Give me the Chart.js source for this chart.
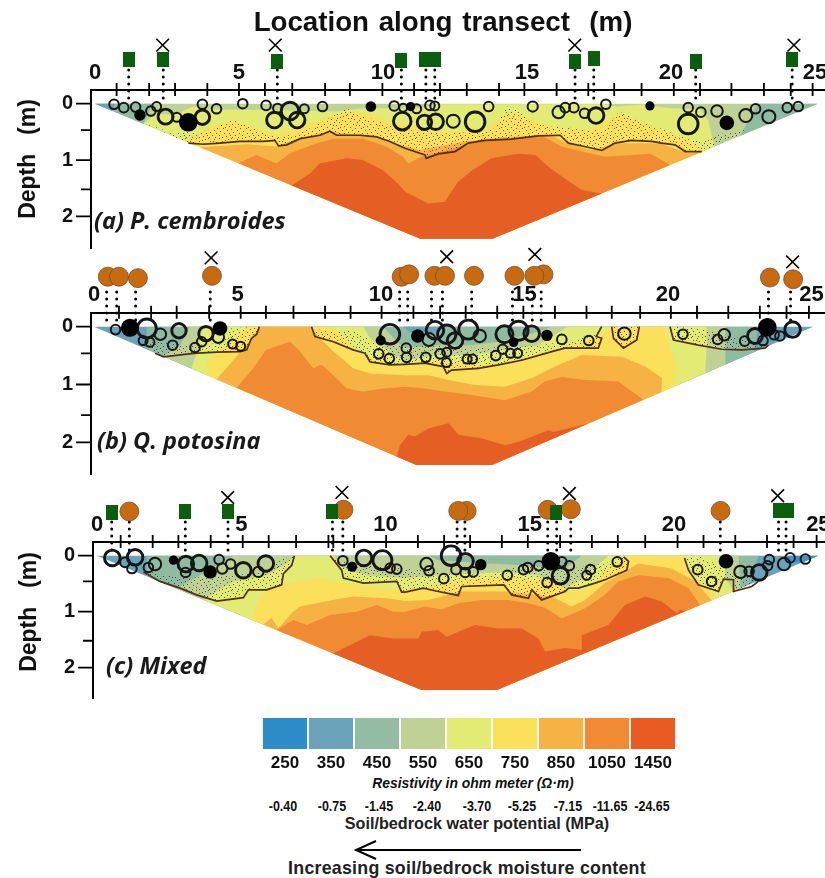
<!DOCTYPE html>
<html>
<head>
<meta charset="utf-8">
<title>Location along transect</title>
<script src="https://cdn.jsdelivr.net/npm/chart.js@4/dist/chart.umd.min.js"></script>
<style>
  html, body { margin: 0; padding: 0; background: #fff; }
  body { position: relative; width: 825px; height: 878px; overflow: hidden; font-family: "Liberation Sans", Arial, sans-serif; color: #111; }
  canvas { position: absolute; left: 0; }
  #chartA { top: 0; }
  #chartB { top: 245px; }
  #chartC { top: 475px; }
  #chartLegend { left: 262px; top: 718px; }
  .txt { position: absolute; transform: translate(-50%, -50%); white-space: nowrap; font-weight: bold; }
  .title { left: 443px; top: 22px; font-size: 27.7px; word-spacing: 2px; }
  .depth { font-size: 23px; transform: translate(-50%, -50%) rotate(-90deg); word-spacing: 3px; }
  .panel { font-family: "Open Sans", sans-serif; font-style: italic; font-size: 23.5px; transform: none; color: #1a1a1a; }
  .potential { font-size: 14.5px; top: 806px; transform: translate(-50%, -50%) scaleX(.86); }
  .arrow { position: absolute; left: 350px; top: 835px; }
</style>
</head>
<body>
<canvas id="chartA" width="825" height="249"></canvas>
<canvas id="chartB" width="825" height="230"></canvas>
<canvas id="chartC" width="825" height="224"></canvas>
<canvas id="chartLegend" width="414" height="57"></canvas>

<div class="txt title">Location along transect&nbsp; (m)</div>
<div class="txt depth" style="left:27px;top:159px">Depth&nbsp; (m)</div>
<div class="txt depth" style="left:28px;top:612px">Depth&nbsp; (m)</div>
<div class="txt panel" style="left:94px;top:204px">(a) P. cembroides</div>
<div class="txt panel" style="left:97px;top:424px">(b) Q. potosina</div>
<div class="txt panel" style="left:106px;top:649px">(c) Mixed</div>
<div class="txt" style="left:473px;top:783px;font-size:13.9px;font-style:italic">Resistivity in ohm meter (Ω·m)</div>
<div class="txt" style="left:477px;top:823px;font-size:16.2px;color:#222">Soil/bedrock water potential (MPa)</div>
<div class="txt" style="left:467px;top:868px;font-size:17.8px;letter-spacing:.25px;color:#222">Increasing soil/bedrock moisture content</div>
<svg class="arrow" width="235" height="30">
  <path d="M231 15 H7 M26 6 L6 15 L26 24" fill="none" stroke="#000" stroke-width="2"/>
</svg>

<script>
    const xLabels = [0, 5, 10, 15, 20, 25];
    const depthLabels = [0, 1, 2];

    const resistivity = ['250', '350', '450', '550', '650', '750', '850', '1050', '1450'];
    const waterPotential = ['-0.40', '-0.75', '-1.45', '-2.40', '-3.70', '-5.25', '-7.15', '-11.65', '-24.65'];
    const legendFill = [1, 1, 1, 1, 1, 1, 1, 1, 1];

    // ---------- panel a
    const aTicks = [0.75, 1.88, 2.78, 3.9, 5, 5.9, 6.85, 7.99, 8.85, 9.98, 11.08, 11.98, 12.91, 14.03, 14.91, 16.03, 17.13, 18.03, 18.98, 20.1, 21.01, 22.1, 23.23, 24.16, 24.92];
    const aMinorDepth = [0.47, 1.52];
    const aOutline = [[0, 0], [11.3, 2.4], [13.8, 2.4], [25.1, 0]];
    const aPatch450 = [[[0, 0], [2, 0], [1.68, 0.36]], [[25.1, 0], [23, 0], [22.8, 0.2], [22.4, 0.57]]];
    const aPatch350 = [[[0, 0], [0.7, 0], [0.6, 0.13]]];
    const aBand650 = [[1.68, 0.36], [2.14, 0.17], [2.72, 0.2], [3.41, 0.05], [4.1, 0.1], [5.96, 0.11], [8.28, 0.14], [9.4, 0.08], [11.28, 0.08], [12, 0.01], [14, 0.01], [17.7, 0.01], [18.1, 0.05], [19, 0.02], [20, 0.08], [21, 0.1], [21.3, 0.3], [21.5, 0.75]];
    const aBand750 = [[3.07, 0.65], [3.65, 0.5], [4.22, 0.38], [4.8, 0.29], [5.73, 0.47], [6.3, 0.53], [7.1, 0.41], [7.8, 0.29], [8.74, 0.14], [9.4, 0.17], [10.36, 0.35], [11.28, 0.41], [11.46, 0.5], [12.4, 0.5], [13.66, 0.44], [14.1, 0.23], [14.6, 0.17], [16, 0.44], [17.2, 0.47], [18.2, 0.17], [19.1, 0.35], [20.3, 0.59], [21.2, 0.76]];
    const aBand850 = [[3.65, 0.78], [4.1, 0.76], [5.27, 0.72], [6.3, 0.76], [6.9, 0.65], [7.8, 0.53], [8.28, 0.5], [9.4, 0.56], [10.6, 0.73], [11.28, 0.82], [11.9, 0.76], [12.85, 0.67], [14.24, 0.59], [15.85, 0.56], [16.4, 0.7], [17.24, 0.82], [18.2, 0.7], [19.6, 0.7], [20.6, 0.88], [21.1, 0.85]];
    const aBand1050 = [[4.98, 1.03], [5.6, 0.91], [6.3, 1.06], [6.77, 0.88], [7.7, 0.7], [8.28, 0.62], [9.3, 0.62], [10.1, 0.76], [10.7, 0.94], [10.88, 1.06], [11.34, 0.94], [12.27, 0.82], [13.3, 0.67], [14.35, 0.62], [15.6, 0.59], [16.2, 0.76], [16.9, 0.85], [17.7, 0.94], [19.3, 0.89], [19.97, 1.09]];
    const aBand1450 = [[6.83, 1.44], [7.47, 1.24], [7.8, 1.06], [8.74, 0.97], [9.3, 1], [10, 1.18], [10.5, 1.41], [10.76, 1.56], [11.57, 1.77], [12.15, 1.74], [12.6, 1.39], [13.1, 1.18], [13.77, 0.97], [14.7, 0.89], [15.3, 0.91], [15.74, 1.12], [16.4, 1.36], [16.9, 1.53], [17.6, 1.59]];
    const aContour = [[[3.24, 0.7], [3.76, 0.72], [4.34, 0.7], [5.03, 0.67], [5.85, 0.67], [6.25, 0.65], [6.37, 0.75], [6.66, 0.73], [7.12, 0.62], [7.81, 0.56], [8.16, 0.49], [8.39, 0.56], [9.2, 0.56], [9.78, 0.59], [10.24, 0.67], [10.76, 0.79], [11.28, 0.88], [11.46, 0.91], [11.5, 0.97], [11.92, 0.89], [12.5, 0.85], [12.96, 0.7], [13.54, 0.65], [14.46, 0.63], [15.4, 0.57], [16.15, 0.56], [16.44, 0.7], [17, 0.76], [17.6, 0.83], [18.05, 0.7], [18.63, 0.65], [19.33, 0.67], [19.68, 0.7], [20.14, 0.73], [20.5, 0.85], [21.07, 0.85]]];
    const aDotsTop = [[[22.9, 0.44], [21.8, 0.53], [21.2, 0.65], [20.7, 0.65], [19.8, 0.47], [18.9, 0.29], [18.2, 0.14], [17.7, 0.47], [17, 0.47], [16.3, 0.41], [15.86, 0.41], [15.2, 0.35], [14.6, 0.08], [14.3, 0.05], [13.9, 0.44], [13.1, 0.5], [12.15, 0.53], [11.34, 0.47], [10.6, 0.47], [9.78, 0.29], [9.08, 0.2], [8.74, 0.08], [7.8, 0.35], [7.1, 0.53], [6.3, 0.59], [5.5, 0.44], [4.8, 0.29], [4.1, 0.44], [3.65, 0.5], [2.6, 0.5], [1.68, 0.34]]];
    const aOpenRoots = [[0.66, 0.01, 4.3], [1, 0.07, 4.3], [1.41, 0.06, 4.3], [1.94, 0.13, 4.3], [2.14, 0.05, 4], [2.45, 0.23, 7], [2.84, 0.24, 4], [3.73, 0.01, 4.3], [3.73, 0.24, 6.7], [4.22, 0.09, 4.3], [5.13, 0, 4.3], [5.94, 0.03, 4.3], [6.34, 0.08, 4], [6.23, 0.29, 7.3], [6.77, 0.13, 8.3], [7.02, 0.29, 7.3], [7.27, 0.09, 4], [7.9, 0.05, 4.3], [10.39, 0.04, 4.3], [10.7, 0.07, 3.5], [10.67, 0.31, 8.3], [11.17, 0.09, 4], [11.44, 0.33, 6.7], [11.63, 0.03, 4.3], [11.8, 0.04, 4], [11.83, 0.32, 7.3], [12.44, 0.31, 6], [13.2, 0.32, 9.3], [13.67, 0.05, 4.3], [15.2, 0.05, 4.6], [16.1, 0.15, 5.6], [16.33, 0.07, 4.3], [16.63, 0.07, 4.3], [17, 0.17, 4.3], [17.4, 0.21, 7.3], [17.74, 0.01, 4.3], [20.6, 0.07, 4.3], [20.6, 0.36, 9.3], [21.04, 0.15, 4.3], [21.6, 0.13, 5.3], [22.6, 0.21, 6], [22.94, 0.09, 4.3], [23.4, 0.23, 6], [24.04, 0.07, 4.3], [24.42, 0.05, 4.3]];
    const aSolidRoots = [[1.56, 0.2, 5.7], [3.24, 0.33, 9.3], [9.58, 0.05, 5.3], [10.96, 0.05, 4.6], [19.27, 0.04, 4.6], [21.94, 0.34, 7.3]];
    const aPines = [[1.17, -0.78], [2.37, -0.78], [6.33, -0.75], [10.64, -0.77], [11.46, -0.78], [11.8, -0.78], [16.68, -0.75], [17.34, -0.8], [20.86, -0.75], [24.22, -0.78]];
    const aOaks = [];
    const aDead = [[2.35, -1.04], [6.26, -1.04], [16.66, -1.04], [24.27, -1.04]];
    const aDrops = [1.17, 2.37, 6.33, 10.64, 11.49, 11.8, 16.67, 17.32, 20.86, 24.21];

    // ---------- panel b
    const bTicks = [0.87, 1.99, 2.88, 4.01, 5.11, 5.99, 6.95, 8.05, 8.94, 10.02, 11.13, 12.06, 12.95, 14.05, 14.96, 16.06, 17.16, 18.04, 19.03, 20.1, 21.01, 22.1, 23.2, 24.13, 24.91];
    const bMinorDepth = [0.46, 1.53];
    const bOutline = [[0, 0], [11.24, 2.39], [13.86, 2.39], [25.06, 0]];
    const bBlob350 = [[[10.8, 0], [12.2, 0], [12, 0.1], [11, 0.1]]];
    const bBand450 = [[1.84, 0.39], [1.84, 0], [23.15, 0], [23, 0.44]];
    const bBand550 = [[2.42, 0.5], [3, 0.32], [3.34, 0], [10.08, 0], [10.55, 0.26], [10.84, 0.37], [12, 0.32], [13.15, 0.32], [14.1, 0.26], [15.13, 0.14], [15.94, 0], [22, 0], [22, 0.65]];
    const bBand650 = [[3.4, 0.72], [3.58, 0.43], [3.81, 0], [9.38, 0], [9.62, 0.2], [10.43, 0.49], [10.84, 0.58], [12, 0.49], [13.15, 0.49], [14.32, 0.4], [15.48, 0.32], [16.4, 0.03], [16.53, 0], [21.34, 0], [21.35, 0.32], [21.3, 0.8]];
    const bBand750 = [[3.93, 0.84], [3.93, 0.6], [4.62, 0.32], [5.32, 0], [8.34, 0], [8.92, 0.32], [9.5, 0.55], [10.84, 0.66], [11.42, 0.6], [12.23, 0.6], [13.4, 0.66], [14.9, 0.6], [15.71, 0.43], [16.4, 0.37], [17.69, 0.14], [18.04, 0], [19.9, 0], [20, 0.32], [20.24, 0.6], [20.24, 1.03]];
    const bBand850 = [[4.27, 0.91], [4.85, 0.58], [5.55, 0.17], [5.78, 0], [7.53, 0], [7.87, 0.2], [8.34, 0.43], [9.03, 0.72], [9.62, 0.81], [10.84, 0.84], [11.65, 0.84], [12.35, 0.92], [13.27, 1.01], [14.32, 1.04], [15.25, 0.89], [16.06, 0.69], [17, 0.49], [18.4, 0.52], [19.2, 0.69], [19.8, 0.89], [19.77, 1.13]];
    const bBand1050 = [[4.97, 1.06], [5.55, 0.72], [6, 0.4], [6.83, 0.26], [7.18, 0.43], [7.64, 0.72], [7.93, 0.66], [8.34, 0.84], [8.8, 1.07], [9.38, 1.12], [10.08, 1.07], [10.84, 1.04], [11.53, 1.07], [12.23, 1.12], [13.15, 1.18], [14.32, 1.27], [15.25, 1.12], [15.71, 0.95], [16.3, 0.87], [17.1, 0.92], [18.27, 0.95], [18.6, 1.07], [19.14, 1.26]];
    const bBand1450 = [[10.55, 2.24], [10.66, 2.05], [10.95, 1.87], [11.18, 1.9], [11.66, 1.76], [12.35, 1.67], [12.7, 1.87], [13.5, 1.93], [14.32, 2.05], [14.8, 1.99], [15.83, 1.79], [16, 1.82], [17.2, 1.68]];
    const bContour = [
      [[2.13, 0.46], [2.42, 0.52], [3.46, 0.46], [4.27, 0.44], [5.09, 0.43], [5.32, 0.4], [5.49, 0.2], [5.67, 0.13], [5.76, 0]],
      [[7.58, 0], [7.7, 0.17], [8.34, 0.26], [9.03, 0.4], [9.44, 0.46], [9.62, 0.61], [10.31, 0.66], [10.84, 0.65], [11.53, 0.63], [12.17, 0.69], [12.29, 0.81], [12.46, 0.75], [13.39, 0.72], [14.09, 0.66], [14.9, 0.58], [15.95, 0.43], [16.4, 0.37], [16.87, 0.37], [17.57, 0.37], [17.69, 0.2], [17.5, 0.17], [17.69, 0]],
      [[18.04, 0], [18.1, 0.2], [18.45, 0.37], [18.91, 0.23], [19, 0]],
      [[20.07, 0], [20.19, 0.23], [21.06, 0.32], [21.87, 0.39], [22.57, 0.4], [23.38, 0.37], [23.5, 0.32]]
    ];
    const bDotsTop = [
      [[4.74, 0.03], [4.62, 0.17], [4.16, 0.29], [3.23, 0.32], [2.3, 0.26], [1.72, 0.2]],
      [[17.34, 0.14], [16.4, 0.26], [15.48, 0.32], [13.39, 0.37], [11.53, 0.32], [10.84, 0.32], [9.73, 0.26], [8.92, 0.03], [8.34, 0.09], [7.64, 0.03]],
      [],
      [[23.03, 0.26], [22, 0.14], [21.28, 0.03]]
    ];
    const bOpenRoots = [[0.75, 0.05, 4.3], [1.84, 0.03, 9], [2.31, 0.13, 5.3], [1.71, 0.24, 4], [1.95, 0.27, 4], [2.96, 0.07, 6.7], [2.74, 0.32, 4.3], [3.52, 0.36, 4.3], [3.75, 0.26, 4.3], [3.9, 0.12, 6.7], [4.33, 0.18, 5.3], [4.83, 0.3, 4], [5.11, 0.34, 4], [10.31, 0.13, 9.3], [9.92, 0.47, 4.3], [10.29, 0.55, 4.3], [10.88, 0.37, 4.3], [10.89, 0.53, 4.3], [11.67, 0.22, 6], [11.88, 0.06, 8.3], [12.29, 0.13, 8.7], [12.58, 0.24, 7.3], [13.04, 0.05, 9], [13.44, 0.16, 5.7], [11.56, 0.53, 4.3], [12.06, 0.47, 4.3], [12.29, 0.44, 4], [12.28, 0.62, 4], [13, 0.56, 4], [13.19, 0.56, 4], [14, 0.5, 4.3], [14.24, 0.39, 4.3], [14.51, 0.46, 4], [14.76, 0.46, 4], [14.3, 0.13, 8], [14.79, 0.07, 9], [15.25, 0.12, 7.3], [16.3, 0.22, 4.3], [17.24, 0.24, 4.3], [18.48, 0.12, 5.7], [20.52, 0.13, 4.3], [21.73, 0.22, 4.3], [21.96, 0.14, 5.3], [22.67, 0.25, 4.3], [23.03, 0.16, 7], [23.31, 0.24, 4.3], [23.7, 0.14, 4.3], [23.9, 0.16, 4.3], [24.34, 0.05, 7.3]];
    const bSolidRoots = [[1.25, 0.02, 9], [4.39, 0.03, 7.3], [9.99, 0.24, 5], [11.28, 0.16, 6.7], [14.62, 0.27, 4.7], [15.78, 0.15, 5.7], [23.46, 0.01, 9.3]];
    const bPines = [];
    const bOaks = [[0.48, -0.865], [0.87, -0.865], [1.53, -0.84], [4.11, -0.88], [10.72, -0.865], [10.98, -0.905], [11.86, -0.88], [12.23, -0.88], [13.24, -0.88], [14.65, -0.88], [15.66, -0.905], [15.34, -0.88], [23.55, -0.85], [24.36, -0.82]];
    const bDead = [[4.08, -1.19], [12.29, -1.21], [15.36, -1.25], [24.34, -1.12]];
    const bDrops = [0.44, 0.79, 1.45, 4.05, 10.65, 10.93, 11.76, 12.14, 13.16, 14.58, 15.27, 15.58, 23.5, 24.27];

    // ---------- panel c
    const cTicks = [0.82, 1.93, 2.82, 3.94, 5.05, 5.95, 6.9, 8.02, 8.19, 8.91, 10.02, 11.12, 12.03, 12.93, 14.03, 14.93, 16.05, 17.15, 18.05, 19, 20.12, 21.02, 22.12, 23.22, 24.14, 24.94];
    const cMinorDepth = [0.46, 1.52];
    const cOutline = [[0, 0], [11.25, 2.4], [13.85, 2.4], [25, 0]];
    const cTip250 = [[[23.9, 0], [25, 0], [24.4, 0.13], [24, 0.1]]];
    const cBand450 = [[1.72, 0.36], [1.72, 0], [22.92, 0], [22.69, 0.4], [22.6, 0.52]];
    const cBand550 = [[2.76, 0.58], [3.57, 0.35], [4.73, 0], [22.23, 0], [22.3, 0.58]];
    const cBand650 = [[3.69, 0.78], [4.2, 0.62], [4.73, 0.46], [5.88, 0.35], [6.57, 0.14], [6.86, 0], [8.19, 0], [8.54, 0.23], [9.35, 0.35], [10.68, 0.4], [11.83, 0.35], [14.1, 0.29], [15.3, 0.35], [16.22, 0.58], [16.68, 0.46], [17.49, 0.11], [17.72, 0], [21.77, 0], [21.77, 0.4], [22.07, 0.63]];
    const cBand750 = [[5.36, 1.14], [5.53, 0.88], [5.77, 0.67], [6.57, 0.49], [7.73, 0.4], [8.54, 0.49], [9.93, 0.58], [10.68, 0.61], [11.83, 0.52], [13, 0.4], [14.1, 0.38], [15.73, 0.46], [16.34, 0.64], [17, 0.61], [17.72, 0.23], [18.42, 0.02], [18.53, 0], [20.3, 0], [20.58, 0.29], [21.08, 0.58], [21.5, 0.75]];
    const cBand850 = [[5.77, 1.23], [6.05, 1.11], [6.28, 1.3], [6.8, 1], [7.04, 0.91], [8.19, 0.79], [8.88, 0.73], [10.04, 0.76], [10.68, 0.81], [11.48, 0.79], [12.64, 0.64], [14.14, 0.64], [15.76, 0.73], [16.45, 0.91], [16.92, 0.79], [17.61, 0.49], [18.07, 0.35], [18.76, 0.14], [19.92, 0.23], [20.73, 0.46], [21.3, 0.79]];
    const cBand1050 = [[6.23, 1.33], [6.8, 1.15], [7.27, 1.24], [8.08, 1.06], [9, 1], [9.69, 0.88], [10.27, 1], [10.68, 1], [11.37, 0.91], [11.95, 0.96], [12.52, 0.85], [13.34, 0.79], [14.26, 0.79], [14.95, 0.85], [15.53, 0.93], [16.11, 1.12], [16.92, 0.94], [17.61, 0.7], [18.07, 0.46], [18.76, 0.35], [19.8, 0.4], [20.5, 0.58], [20.9, 0.87]];
    const cBand1450 = [[8.19, 1.75], [8.88, 1.57], [9.46, 1.42], [10.27, 1.48], [11.14, 1.48], [11.25, 1.36], [11.83, 1.33], [12.12, 1.45], [12.53, 1.36], [13.1, 1.24], [13.9, 1.3], [14.72, 1.3], [15.3, 1.48], [15.53, 1.71], [16.23, 1.65], [16.8, 1.68], [16.8, 1.42], [17.72, 1.24], [18.3, 0.88], [19, 0.73], [19.57, 0.82], [20.1, 1.03], [20.2, 0.97], [20.4, 0.99]];
    const cBlob450 = [[[11.5, 0], [16.8, 0], [16.22, 0.23], [14.72, 0.17], [13, 0.12], [11.83, 0.08]]];
    const cContour = [
      [[1.61, 0.29], [2.18, 0.46], [2.88, 0.58], [3.45, 0.7], [4.15, 0.81], [5.07, 0.75], [5.25, 0.61], [5.88, 0.61], [6.4, 0.52], [6.46, 0.32], [6.75, 0.17], [6.84, 0]],
      [[8.08, 0], [8.48, 0.26], [8.54, 0.4], [9.23, 0.49], [10.39, 0.46], [10.56, 0.65], [10.68, 0.65], [11.31, 0.58], [11.83, 0.64], [12.52, 0.71], [12.64, 0.55], [14.1, 0.52], [14.37, 0.7], [14.95, 0.76], [15.07, 0.61], [15.41, 0.79], [16.22, 0.64], [16.34, 0.58], [16.68, 0.58], [17.26, 0.49], [17.61, 0.43], [18.36, 0.26], [18.42, 0.1], [18.25, 0.02]],
      [[20.36, 0.04], [20.5, 0.26], [20.84, 0.52], [21.54, 0.64], [21.71, 0.42], [22.06, 0.43], [22.06, 0.64], [22.69, 0.55], [22.92, 0.46]]
    ];
    const cDotsTop = [
      [[6.46, 0.05], [5.77, 0.29], [4.73, 0.35], [3.11, 0.4], [2.18, 0.32], [1.61, 0.23]],
      [[17.9, 0.08], [17.61, 0.14], [16.45, 0.23], [14.72, 0.17], [13.56, 0.35], [11.83, 0.29], [10.68, 0.23], [9.12, 0.17], [8.19, 0.05]],
      [[22.92, 0.4], [21.88, 0.29], [21.3, 0.11], [20.96, 0.02]]
    ];
    const cOpenRoots = [[0.53, 0.04, 7.3], [0.97, 0.12, 4.3], [1.32, 0.03, 7.3], [1.21, 0.23, 4.3], [1.78, 0.21, 4.3], [2.01, 0.15, 5.7], [3.08, 0.15, 7.3], [3.07, 0.3, 4.3], [3.54, 0.13, 7.3], [4.23, 0.07, 4.3], [4.34, 0.23, 4.7], [4.63, 0.15, 4.3], [5.07, 0.26, 7.3], [5.59, 0.29, 4.7], [5.85, 0.14, 7.3], [8.52, 0.09, 4.3], [9.25, 0.04, 7.3], [9.89, 0.08, 9], [10.16, 0.22, 4.3], [10.39, 0.24, 4.3], [11.42, 0.15, 5.7], [11.51, 0.27, 4.3], [12.02, 0.41, 4.3], [12.27, 0, 9.3], [12.77, 0.1, 7.3], [12.44, 0.25, 4.3], [12.76, 0.3, 4.3], [13.04, 0.29, 4.3], [14.22, 0.35, 4.3], [14.78, 0.25, 4.3], [14.93, 0.21, 4.3], [15.31, 0.18, 4.3], [15.6, 0.48, 4.3], [16.06, 0.36, 7.7], [16.11, 0.11, 4.3], [16.37, 0.18, 4.3], [16.97, 0.35, 4], [17.1, 0.25, 4.3], [18.03, 0.11, 4.3], [20.82, 0.25, 4.3], [21.3, 0.46, 4.3], [22.3, 0.29, 5.7], [22.6, 0.28, 4.3], [22.95, 0.3, 7.3], [23.24, 0.18, 4.3], [23.3, 0.07, 4.3], [23.81, 0.15, 5.7], [24.02, 0.04, 4.3], [24.55, 0.06, 4.3]];
    const cSolidRoots = [[2.65, 0.08, 4.7], [3.92, 0.29, 6.7], [8.84, 0.2, 5], [13.3, 0.16, 5.7], [15.73, 0.1, 9.3], [21.8, 0.1, 7.3]];
    const cPines = [[0.51, -0.77], [3.06, -0.79], [4.54, -0.79], [8.16, -0.79], [15.92, -0.77], [23.62, -0.8], [23.96, -0.8]];
    const cOaks = [[1.12, -0.79], [8.54, -0.82], [12.81, -0.8], [12.52, -0.8], [15.62, -0.82], [16.42, -0.83], [21.61, -0.8]];
    const cDead = [[4.53, -1.04], [8.49, -1.13], [16.37, -1.11], [23.59, -1.07]];
    const cDrops = [0.51, 1.12, 3.06, 4.54, 8.16, 8.52, 12.48, 12.75, 15.62, 15.93, 16.42, 21.6, 23.62, 23.88];

    const dropTop = -0.6;
    const dropBottom = -0.05;

    const colors = { c250: '#3c93c9', c350: '#6ba4ba', c450: '#90bba3', c550: '#bfd195', c650: '#e2eb74', c750: '#fbe05b', c850: '#f6b243', c1050: '#f08a33', c1450: '#e55e24' };
    const legendColors = ['#2e8dc8', '#6ba3ba', '#93bca3', '#bfd195', '#e2eb74', '#fbe05b', '#f6b243', '#f18a33', '#e95b23'];

    function pts(list) {
      return list.map(p => ({ x: p[0], y: p[1] }));
    }

    // a band is the contour plus the lower edge of the section
    function closeBand(line, outline) {
      const bl = outline[1], br = outline[2], end = outline[3];
      const leftSlope = bl[1] / bl[0];
      const rightSlope = br[1] / (end[0] - br[0]);
      const first = line[0], last = line[line.length - 1];
      return [[first[0], first[0] * leftSlope], ...line.slice(1, -1), [last[0], (end[0] - last[0]) * rightSlope], br, bl];
    }

    function shape(list, color) {
      return { type: 'line', data: pts(list), fill: 'shape', backgroundColor: color, borderWidth: 0, pointRadius: 0, clip: false };
    }

    // small tile of speckles for the stippled soil layer
    function stipple() {
      const tile = document.createElement('canvas');
      tile.width = 23;
      tile.height = 23;
      const g = tile.getContext('2d');
      g.fillStyle = 'rgba(35,25,10,0.7)';
      [[1, 0], [7, 1], [12, 0], [18, 2], [21, 1], [3, 3], [9, 4], [15, 3], [20, 5], [0, 6], [5, 6], [12, 7], [17, 7], [2, 9], [8, 9], [14, 10], [19, 9], [22, 11], [5, 12], [10, 13], [16, 13], [1, 14], [7, 15], [13, 16], [20, 15], [3, 17], [17, 18], [9, 18], [22, 18], [0, 20], [5, 20], [12, 20], [19, 21], [8, 22], [15, 22], [2, 22], [11, 10], [18, 12], [6, 3], [14, 5]].forEach(d => g.fillRect(d[0], d[1], 1, 1));
      return document.createElement('canvas').getContext('2d').createPattern(tile, 'repeat');
    }
    const dots = stipple();

    function pineIcon() {
      const c = document.createElement('canvas');
      c.width = 12;
      c.height = 15;
      const g = c.getContext('2d');
      g.fillStyle = '#0b5e0b';
      g.fillRect(0, 0, 12, 15);
      return c;
    }
    const pineStyle = pineIcon();

    // axis furniture: the y axis starts at the x axis, and ticks cross the x axis
    const crossTicks = {
      id: 'crossTicks',
      beforeDatasetsDraw(chart, args, opts) {
        if (!opts.xMarks) return;
        const g = chart.ctx, xs = chart.scales.x, ys = chart.scales.y, left = chart.chartArea.left, bottom = chart.chartArea.bottom;
        const top = ys.getPixelForValue(opts.axisDepth);
        g.save();
        g.strokeStyle = '#000';
        g.lineWidth = 2;
        g.beginPath();
        g.moveTo(left, top);
        g.lineTo(left, bottom);
        g.stroke();
        g.lineWidth = 1.8;
        g.beginPath();
        opts.xMarks.forEach(v => {
          const px = xs.getPixelForValue(v);
          g.moveTo(px, top - 7);
          g.lineTo(px, top + 6);
        });
        depthLabels.forEach(v => {
          const py = ys.getPixelForValue(v);
          g.moveTo(left - 15, py);
          g.lineTo(left, py);
        });
        opts.yMinor.forEach(v => {
          const py = ys.getPixelForValue(v);
          g.moveTo(left - 10, py);
          g.lineTo(left, py);
        });
        g.stroke();
        g.restore();
      }
    };
    Chart.register(crossTicks);

    function makePanel(id, p) {
      const layers = [];
      layers.push(shape(p.outline, p.base));
      p.patches.forEach(q => layers.push(shape(q.list, q.color)));
      p.bands.forEach(b => layers.push(shape(closeBand(b.line, p.outline), b.color)));
      (p.blobs || []).forEach(q => layers.push(shape(q.list, q.color)));
      p.contour.forEach((line, i) => {
        layers.push(shape(line.concat(p.dotsTop[i]), dots));
        layers.push({ type: 'line', data: pts(line), borderColor: '#51300f', borderWidth: 1.7, pointRadius: 0, fill: false, clip: false });
      });
      p.drops.forEach(x => layers.push({
        type: 'line',
        data: [{ x: x, y: dropTop }, { x: x, y: dropBottom }],
        borderColor: '#000', borderWidth: 3, borderDash: [0, 7], borderCapStyle: 'round', pointRadius: 0, fill: false, clip: false
      }));
      layers.push({
        type: 'bubble',
        data: p.open.map(r => ({ x: r[0], y: r[1], r: r[2] + 0.5 })),
        backgroundColor: 'rgba(0,0,0,0)',
        borderColor: '#161616',
        borderWidth: c => (c.raw && c.raw.r > 7 ? 2.9 : 2),
        clip: false
      });
      layers.push({
        type: 'bubble',
        data: p.solid.map(r => ({ x: r[0], y: r[1], r: r[2] })),
        backgroundColor: '#000', borderColor: '#000', borderWidth: 0, clip: false
      });
      layers.push({
        type: 'scatter', data: pts(p.oaks), pointStyle: 'circle', pointRadius: 9.5,
        backgroundColor: '#c76a10', borderColor: '#6f5138', borderWidth: 0.8, clip: false
      });
      layers.push({ type: 'scatter', data: pts(p.pines), pointStyle: pineStyle, clip: false });
      layers.push({
        type: 'scatter', data: pts(p.dead), pointStyle: 'crossRot', pointRadius: 9,
        borderColor: '#000', borderWidth: 1.6, backgroundColor: '#000', clip: false
      });

      return new Chart(document.getElementById(id), {
        type: 'scatter',
        data: { datasets: layers.reverse() },
        options: {
          responsive: false,
          animation: false,
          events: [],
          layout: { autoPadding: false, padding: 0 },
          plugins: {
            legend: { display: false },
            tooltip: { enabled: false },
            crossTicks: { xMarks: p.ticks, yMinor: p.minor, axisDepth: p.axisDepth }
          },
          scales: {
            x: {
              type: 'linear',
              position: { y: p.axisDepth },
              min: p.xMin,
              max: p.xMax,
              grid: { display: false, drawTicks: false },
              border: { display: true, color: '#000', width: 2 },
              afterBuildTicks: s => { s.ticks = xLabels.map(v => ({ value: v })); },
              afterFit: s => { s.paddingLeft = 0; s.paddingRight = 0; },
              ticks: { color: '#111', font: { family: 'Liberation Sans', size: 22, weight: 'bold' }, padding: -30.5, autoSkip: false, maxRotation: 0, callback: v => v }
            },
            y: {
              type: 'linear',
              reverse: true,
              min: p.yMin,
              max: p.yMax,
              grid: { display: false, drawTicks: false },
              border: { display: false },
              afterBuildTicks: s => { s.ticks = depthLabels.map(v => ({ value: v })); },
              // tick padding would otherwise shrink the plot height
              afterFit: s => { s.width = p.axisLeft; s.paddingTop = 0; s.paddingBottom = 0; },
              ticks: { color: '#111', font: { family: 'Liberation Sans', size: 20, weight: 'bold' }, padding: 18, autoSkip: false, callback: v => v }
            }
          }
        }
      });
    }

    makePanel('chartA', {
      outline: aOutline, base: colors.c550, axisDepth: -0.243, axisLeft: 91,
      xMin: -0.139, xMax: 25.35, yMin: -1.842, yMax: 2.58,
      ticks: aTicks, minor: aMinorDepth,
      patches: [{ list: aPatch450[0], color: colors.c450 }, { list: aPatch450[1], color: colors.c450 }, { list: aPatch350[0], color: colors.c350 }],
      bands: [{ line: aBand650, color: colors.c650 }, { line: aBand750, color: colors.c750 }, { line: aBand850, color: colors.c850 }, { line: aBand1050, color: colors.c1050 }, { line: aBand1450, color: colors.c1450 }],
      contour: aContour, dotsTop: aDotsTop,
      drops: aDrops, open: aOpenRoots, solid: aSolidRoots, pines: aPines, oaks: aOaks, dead: aDead
    });

    makePanel('chartB', {
      outline: bOutline, base: colors.c350, axisDepth: -0.242, axisLeft: 91,
      xMin: -0.105, xMax: 25.47, yMin: -1.413, yMax: 2.565,
      ticks: bTicks, minor: bMinorDepth,
      patches: [],
      bands: [{ line: bBand450, color: colors.c450 }, { line: bBand550, color: colors.c550 }, { line: bBand650, color: colors.c650 }, { line: bBand750, color: colors.c750 }, { line: bBand850, color: colors.c850 }, { line: bBand1050, color: colors.c1050 }, { line: bBand1450, color: colors.c1450 }],
      blobs: [{ list: bBlob350[0], color: colors.c350 }],
      contour: bContour, dotsTop: bDotsTop,
      drops: bDrops, open: bOpenRoots, solid: bSolidRoots, pines: bPines, oaks: bOaks, dead: bDead
    });

    makePanel('chartC', {
      outline: cOutline, base: colors.c350, axisDepth: -0.245, axisLeft: 93,
      xMin: -0.139, xMax: 25.23, yMin: -1.441, yMax: 2.56,
      ticks: cTicks, minor: cMinorDepth,
      patches: [{ list: cTip250[0], color: colors.c250 }],
      bands: [{ line: cBand450, color: colors.c450 }, { line: cBand550, color: colors.c550 }, { line: cBand650, color: colors.c650 }, { line: cBand750, color: colors.c750 }, { line: cBand850, color: colors.c850 }, { line: cBand1050, color: colors.c1050 }, { line: cBand1450, color: colors.c1450 }],
      blobs: [{ list: cBlob450[0], color: colors.c450 }],
      contour: cContour, dotsTop: cDotsTop,
      drops: cDrops, open: cOpenRoots, solid: cSolidRoots, pines: cPines, oaks: cOaks, dead: cDead
    });

    new Chart(document.getElementById('chartLegend'), {
      type: 'bar',
      data: {
        labels: resistivity,
        datasets: [{ data: legendFill, backgroundColor: legendColors, categoryPercentage: 1, barPercentage: 0.96 }]
      },
      options: {
        responsive: false,
        animation: false,
        events: [],
        layout: { autoPadding: false, padding: 0 },
        plugins: { legend: { display: false }, tooltip: { enabled: false } },
        scales: {
          x: {
            grid: { display: false, drawTicks: false },
            border: { display: false },
            afterFit: s => { s.height = 26; },
            ticks: { color: '#111', font: { family: 'Liberation Sans', size: 17, weight: 'bold' }, padding: 4, autoSkip: false, maxRotation: 0 }
          },
          y: { display: false, min: 0, max: 1 }
        }
      }
    });

    // second row of the colour key
    const potentialCentres = [283, 332, 379, 427, 477, 522, 568, 610, 652];
    waterPotential.forEach((t, i) => {
      const el = document.createElement('div');
      el.className = 'txt potential';
      el.style.left = potentialCentres[i] + 'px';
      el.textContent = t;
      document.body.appendChild(el);
    });
</script>
</body>
</html>
